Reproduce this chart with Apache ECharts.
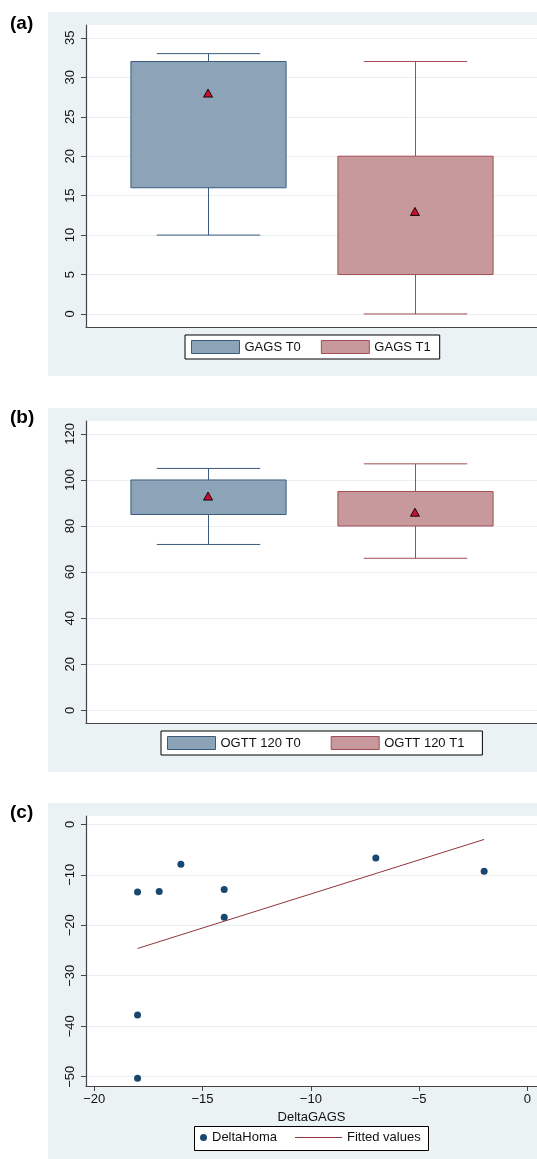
<!DOCTYPE html>
<html><head><meta charset="utf-8">
<script src="https://cdn.jsdelivr.net/npm/echarts@6/dist/echarts.min.js"></script>
<style>html,body{margin:0;padding:0;background:#fff}#c{width:537px;height:1159px}</style>
</head><body><div id="c"></div>
<script>
// ---- Panel (a): GAGS box plots ----
const gagsGroups = ['GAGS T0', 'GAGS T1'];
const gagsLowerWhisker = [10, 0];
const gagsQ1 = [16, 5];
const gagsQ3 = [32, 20];
const gagsUpperWhisker = [33, 32];
const gagsMean = [28, 13];
const gagsTicks = [0, 5, 10, 15, 20, 25, 30, 35];

// ---- Panel (b): OGTT 120 box plots ----
const ogttGroups = ['OGTT 120 T0', 'OGTT 120 T1'];
const ogttLowerWhisker = [72, 66];
const ogttQ1 = [85, 80];
const ogttQ3 = [100, 95];
const ogttUpperWhisker = [105, 107];
const ogttMean = [93, 86];
const ogttTicks = [0, 20, 40, 60, 80, 100, 120];

// ---- Panel (c): scatter + fitted line ----
const deltaGAGS = [-18, -17, -16, -14, -14, -7, -2, -18, -18];
const deltaHoma = [-13.4, -13.3, -7.9, -12.9, -18.4, -6.7, -9.3, -37.8, -50.3];
const fittedX = [-18, -2];
const fittedY = [-24.6, -3.0];
const deltaGAGSTicks = [-20, -15, -10, -5, 0];
const deltaHomaTicks = [0, -10, -20, -30, -40, -50];

// ---- styles ----
const FONT = 'Liberation Sans, Arial, Helvetica, sans-serif';
const TXT = '#111';
const AXIS = '#444';
const GRIDLINE = '#e8eff1';
const BG = '#eaf2f3';
const FIT = '#90353b';
const boxColors = [
  { fill: '#8da3b7', stroke: '#3a5b7d' },
  { fill: '#c8999c', stroke: '#a24d55' }
];
const minus = v => String(v).replace('-', '\u2212');

function boxRender(colors) {
  return function (params, api) {
    const x = api.value(0);
    const pLw = api.coord([x, api.value(1)]);
    const pQ1 = api.coord([x, api.value(2)]);
    const pQ3 = api.coord([x, api.value(3)]);
    const pUw = api.coord([x, api.value(4)]);
    const halfBox = api.size([0.375, 0])[0];
    const halfCap = api.size([0.25, 0])[0];
    const cx = Math.round(pQ1[0]) + 0.5;
    const ln = { stroke: colors.stroke, lineWidth: 1 };
    return {
      type: 'group',
      children: [
        { type: 'line', shape: { x1: cx, y1: pQ3[1], x2: cx, y2: pUw[1] }, style: ln },
        { type: 'line', shape: { x1: cx, y1: pQ1[1], x2: cx, y2: pLw[1] }, style: ln },
        { type: 'line', shape: { x1: cx - halfCap, y1: pUw[1], x2: cx + halfCap, y2: pUw[1] }, style: ln },
        { type: 'line', shape: { x1: cx - halfCap, y1: pLw[1], x2: cx + halfCap, y2: pLw[1] }, style: ln },
        { type: 'rect', shape: { x: cx - halfBox, y: pQ3[1], width: 2 * halfBox, height: pQ1[1] - pQ3[1] },
          style: { fill: colors.fill, stroke: colors.stroke, lineWidth: 1 } }
      ]
    };
  };
}

function boxSeries(groups, lw, q1, q3, uw, axisIdx) {
  return groups.map((name, i) => ({
    type: 'custom',
    name: name,
    xAxisIndex: axisIdx, yAxisIndex: axisIdx,
    itemStyle: { color: boxColors[i].fill, borderColor: boxColors[i].stroke, borderWidth: 1 },
    renderItem: boxRender(boxColors[i]),
    encode: { x: 0, y: [1, 2, 3, 4] },
    data: [[i, lw[i], q1[i], q3[i], uw[i]]],
    z: 2
  }));
}

function meanSeries(means, axisIdx) {
  return {
    type: 'scatter', name: 'mean' + axisIdx,
    xAxisIndex: axisIdx, yAxisIndex: axisIdx,
    symbol: 'triangle', symbolSize: [9, 8],
    itemStyle: { color: '#c8102e', borderColor: '#000', borderWidth: 0.9, opacity: 1 },
    data: means.map((m, i) => [i, m]),
    z: 5
  };
}

function yAxisDef(grid, min, max, ticks, fmt) {
  return {
    type: 'value', gridIndex: grid, min: min, max: max,
    axisLine: { show: true, onZero: false, lineStyle: { color: AXIS, width: 1.2 } },
    axisTick: { show: true, length: 5, lineStyle: { color: AXIS }, customValues: ticks },
    axisLabel: { show: true, rotate: 90, margin: 9, fontSize: 13, fontFamily: FONT, color: TXT,
                 customValues: ticks, formatter: fmt || (v => String(v)) },
    splitLine: { show: true, lineStyle: { color: GRIDLINE, width: 1 } }
  };
}

function catXAxis(grid) {
  return {
    type: 'value', gridIndex: grid, min: -0.59, max: 1.59,
    axisLine: { show: true, onZero: false, lineStyle: { color: AXIS, width: 1.2 } },
    axisTick: { show: false }, axisLabel: { show: false }, splitLine: { show: false }
  };
}

function boxLegend(names, left, top, gap, padRight) {
  return {
    data: names.map((n, i) => ({ name: n, icon: 'rect',
      itemStyle: { color: boxColors[i].fill, borderColor: boxColors[i].stroke, borderWidth: 1 } })),
    left: left, top: top, orient: 'horizontal',
    itemWidth: 48, itemHeight: 13, itemGap: gap,
    padding: [5, padRight, 5, 6],
    borderColor: '#000', borderWidth: 1, backgroundColor: '#fff',
    selectedMode: false,
    textStyle: { fontSize: 13, fontFamily: FONT, color: TXT }
  };
}

const chart = echarts.init(document.getElementById('c'), null, { renderer: 'canvas' });
chart.setOption({
  animation: false,
  backgroundColor: '#fff',
  graphic: [
    { type: 'rect', z: -10, shape: { x: 48, y: 12, width: 500, height: 364 }, style: { fill: BG } },
    { type: 'rect', z: -10, shape: { x: 48, y: 408, width: 500, height: 364 }, style: { fill: BG } },
    { type: 'rect', z: -10, shape: { x: 48, y: 803, width: 500, height: 370 }, style: { fill: BG } },
    { type: 'rect', z: 1, shape: { x: 194.5, y: 1126.5, width: 234, height: 24 }, style: { fill: '#fff', stroke: '#000', lineWidth: 1 } }
  ],
  title: [
    { text: '(a)', left: 10, top: 14, padding: 0, textStyle: { fontSize: 19, fontWeight: 'bold', fontFamily: FONT, color: '#000' } },
    { text: '(b)', left: 10, top: 408, padding: 0, textStyle: { fontSize: 19, fontWeight: 'bold', fontFamily: FONT, color: '#000' } },
    { text: '(c)', left: 10, top: 803, padding: 0, textStyle: { fontSize: 19, fontWeight: 'bold', fontFamily: FONT, color: '#000' } }
  ],
  grid: [
    { left: 86, top: 25, width: 453, height: 302, show: true, backgroundColor: '#fff', borderWidth: 0 },
    { left: 86, top: 421, width: 453, height: 302, show: true, backgroundColor: '#fff', borderWidth: 0 },
    { left: 86, top: 816, width: 453, height: 270, show: true, backgroundColor: '#fff', borderWidth: 0 }
  ],
  xAxis: [
    catXAxis(0),
    catXAxis(1),
    {
      type: 'value', gridIndex: 2, min: -20.38, max: 0.44,
      name: 'DeltaGAGS', nameLocation: 'middle', nameGap: 25,
      nameTextStyle: { fontSize: 13, fontFamily: FONT, color: TXT },
      axisLine: { show: true, onZero: false, lineStyle: { color: AXIS, width: 1.2 } },
      axisTick: { show: true, length: 5, lineStyle: { color: AXIS }, customValues: deltaGAGSTicks },
      axisLabel: { show: true, margin: 7, fontSize: 13, fontFamily: FONT, color: TXT,
                   customValues: deltaGAGSTicks, formatter: minus },
      splitLine: { show: false }
    }
  ],
  yAxis: [
    yAxisDef(0, -1.65, 36.63, gagsTicks),
    yAxisDef(1, -5.52, 125.6, ogttTicks),
    yAxisDef(2, -51.84, 1.64, deltaHomaTicks, minus)
  ],
  legend: [
    boxLegend(gagsGroups, 185, 335, 20, 9),
    boxLegend(ogttGroups, 161, 731, 30, 18),
    {
      data: [{ name: 'DeltaHoma', icon: 'circle' }],
      left: 200, top: 1131, padding: 0, itemWidth: 7, itemHeight: 7, selectedMode: false,
      textStyle: { fontSize: 13, fontFamily: FONT, color: TXT }
    },
    {
      data: [{ name: 'Fitted values', icon: 'rect', itemStyle: { color: FIT, borderWidth: 0 } }],
      left: 295, top: 1131, padding: 0, itemWidth: 47, itemHeight: 1.2, selectedMode: false,
      textStyle: { fontSize: 13, fontFamily: FONT, color: TXT }
    }
  ],
  series: [
    ...boxSeries(gagsGroups, gagsLowerWhisker, gagsQ1, gagsQ3, gagsUpperWhisker, 0),
    meanSeries(gagsMean, 0),
    ...boxSeries(ogttGroups, ogttLowerWhisker, ogttQ1, ogttQ3, ogttUpperWhisker, 1),
    meanSeries(ogttMean, 1),
    {
      type: 'scatter', name: 'DeltaHoma', xAxisIndex: 2, yAxisIndex: 2,
      symbol: 'circle', symbolSize: 7,
      itemStyle: { color: '#1a476f', opacity: 1 },
      data: deltaGAGS.map((x, i) => [x, deltaHoma[i]]),
      z: 5
    },
    {
      type: 'line', name: 'Fitted values', xAxisIndex: 2, yAxisIndex: 2,
      symbol: 'none', showSymbol: false,
      itemStyle: { color: FIT },
      lineStyle: { color: FIT, width: 1 },
      data: fittedX.map((x, i) => [x, fittedY[i]]),
      z: 4
    }
  ]
});
</script>
</body></html>
